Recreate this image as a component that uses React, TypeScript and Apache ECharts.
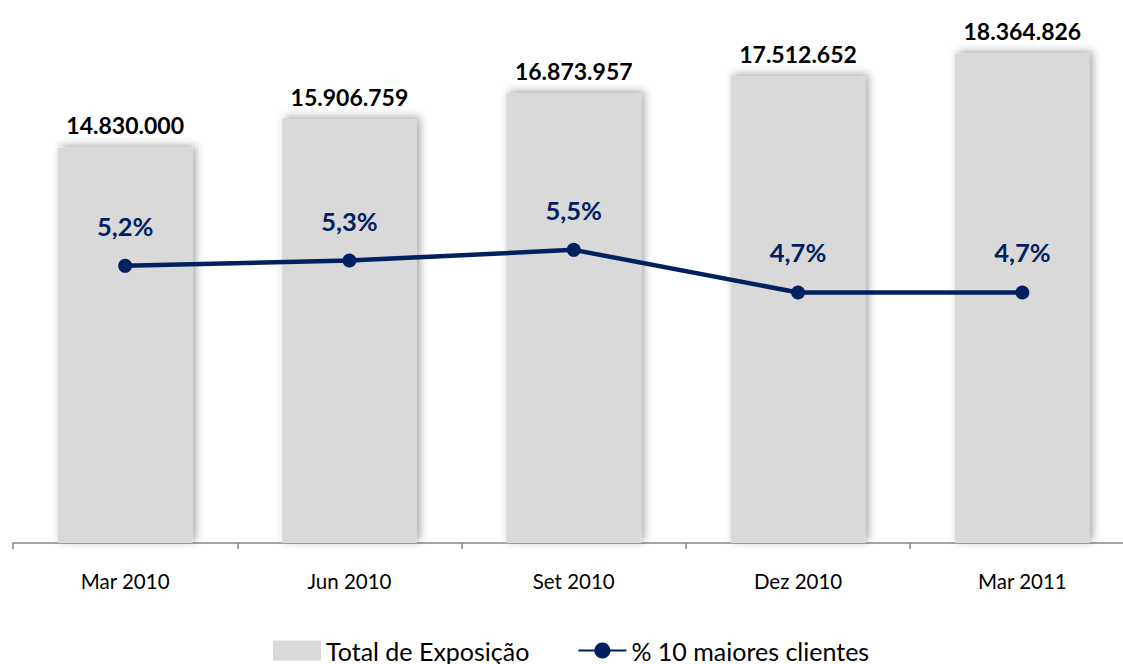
import React, { useEffect, useRef } from "react";
import * as echarts from "echarts";

const categories = ["Mar 2010", "Jun 2010", "Set 2010", "Dez 2010", "Mar 2011"];
const exposure = [14830000, 15906759, 16873957, 17512652, 18364826];
const top10Share = [5.2, 5.3, 5.5, 4.7, 4.7];

const FONT = "Lato, 'Open Sans', sans-serif";
const NAVY = "#002060";

function fmtThousands(v: number): string {
  return String(Math.round(v)).replace(/\B(?=(\d{3})+(?!\d))/g, ".");
}

export default function App() {
  const ref = useRef<HTMLDivElement>(null);
  useEffect(() => {
    document.body.style.margin = "0";
    const chart = echarts.init(ref.current!, null, { renderer: "svg" });
    chart.setOption({
      animation: false,
      backgroundColor: "#ffffff",
      grid: { left: 13, top: 10, width: 1121.5, height: 533 },
      legend: {
        left: 268,
        top: 633,
        itemWidth: 48,
        itemHeight: 20,
        itemGap: 48,
        textStyle: { fontFamily: FONT, fontSize: 25, color: "#000" },
        data: [
          { name: "Total de Exposição", icon: "rect" },
          { name: "% 10 maiores clientes" },
        ],
      },
      xAxis: {
        type: "category",
        data: categories,
        axisLine: { lineStyle: { color: "#868686", width: 1.5 } },
        axisTick: { show: true, length: 6, lineStyle: { color: "#868686", width: 1.5 } },
        axisLabel: { fontFamily: FONT, fontSize: 20.5, color: "#000", margin: 27 },
      },
      yAxis: [
        { type: "value", min: 0, max: 20000000, show: false, splitLine: { show: false } },
        { type: "value", min: 0, max: 10, show: false, splitLine: { show: false } },
      ],
      series: [
        {
          name: "Total de Exposição",
          type: "bar",
          data: exposure,
          barWidth: 135,
          itemStyle: {
            color: "#d9d9d9",
            shadowBlur: 8,
            shadowColor: "rgba(0,0,0,0.35)",
            shadowOffsetX: 3,
            shadowOffsetY: -2,
          },
          label: {
            show: true,
            position: "top",
            distance: 11,
            fontFamily: FONT,
            fontSize: 23,
            fontWeight: "bold",
            color: "#000",
            formatter: (p: any) => fmtThousands(p.value),
          },
        },
        {
          name: "% 10 maiores clientes",
          type: "line",
          yAxisIndex: 1,
          data: top10Share,
          symbol: "circle",
          symbolSize: 14,
          lineStyle: { color: NAVY, width: 4.5 },
          itemStyle: { color: NAVY },
          label: {
            show: true,
            position: "top",
            distance: 20,
            fontFamily: FONT,
            fontSize: 25.5,
            fontWeight: "bold",
            color: NAVY,
            formatter: (p: any) => p.value.toFixed(1).replace(".", ",") + "%",
          },
        },
      ],
    });
    return () => chart.dispose();
  }, []);
  return (
    <div style={{ width: 1123, height: 664, overflow: "hidden" }}>
      <div ref={ref} style={{ width: 1145, height: 664 }} />
    </div>
  );
}
